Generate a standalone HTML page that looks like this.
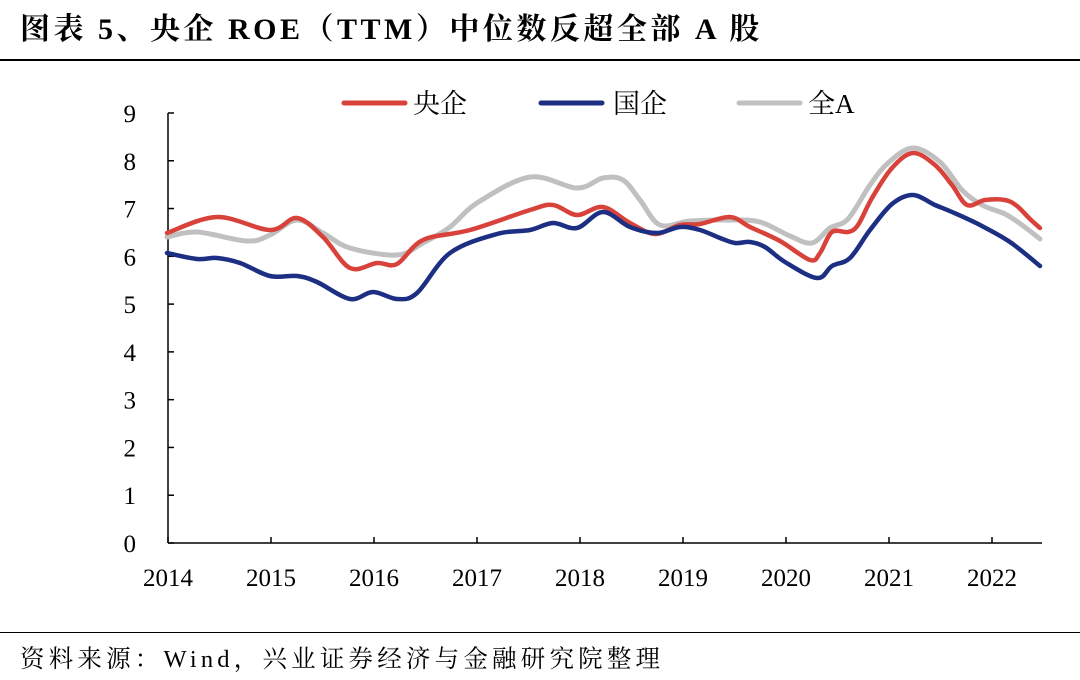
<!DOCTYPE html>
<html><head><meta charset="utf-8"><style>
body{margin:0;background:#fff;width:1080px;height:680px;overflow:hidden;font-family:"Liberation Serif","Noto Serif CJK SC",serif}
.t{position:absolute;left:20px;top:4px;font-size:30px;font-weight:bold;color:#000;letter-spacing:3.5px;white-space:nowrap;font-family:"Liberation Serif","Noto Serif CJK SC",serif}
.s{position:absolute;left:20px;top:640px;font-size:24.5px;color:#000;letter-spacing:4.2px;white-space:nowrap}
</style></head><body>
<div class="t">图表 5、央企 ROE（TTM）中位数反超全部 A 股</div>
<div style="position:absolute;left:0;top:59px;width:1080px;height:1.5px;background:#000"></div>
<div style="position:absolute;left:0;top:632px;width:1080px;height:1px;background:#000"></div>
<div class="s">资料来源：Wind，兴业证券经济与金融研究院整理</div>
<svg id="c" width="1080" height="680" style="position:absolute;left:0;top:0" font-family="Liberation Serif, Noto Serif CJK SC, serif" font-size="25">
</svg>
<script>
const svg=document.getElementById('c');let h='';
const y0=543,u=47.78;
h+='<line x1="168" y1="113" x2="168" y2="543" stroke="#000" stroke-width="1.5"/>';
h+='<line x1="168" y1="543" x2="1042" y2="543" stroke="#000" stroke-width="1.5"/>';
for(let i=0;i<=9;i++){const y=y0-i*u;h+=`<line x1="168" y1="${y}" x2="174" y2="${y}" stroke="#000" stroke-width="1.5"/><text x="136" y="${y+9}" text-anchor="end">${i}</text>`;}
for(let i=0;i<=8;i++){const x=168+i*103;h+=`<line x1="${x}" y1="537" x2="${x}" y2="543" stroke="#000" stroke-width="1.5"/><text x="${x}" y="586" text-anchor="middle">${2014+i}</text>`;}
function path(p){let d=`M${p[0][0]},${p[0][1]}`;for(let i=0;i<p.length-1;i++){const a=p[i-1]||p[i],b=p[i],c=p[i+1],e=p[i+2]||c;d+=` C${b[0]+(c[0]-a[0])/6},${b[1]+(c[1]-a[1])/6} ${c[0]-(e[0]-b[0])/6},${c[1]-(e[1]-b[1])/6} ${c[0]},${c[1]}`;}return d;}
const gray=[[167,237],[197,232],[247,241],[270,235],[297,220],[323,233],[350,248],[397,255],[423,243],[450,227],[477,203],[530,177],[577,188],[603,178],[623,180],[640,200],[660,225],[690,221],[730,220],[760,222],[790,236],[812,243],[830,228],[848,219],[870,185],[888,163],[913,148],[940,162],[962,190],[982,205],[1005,214],[1022,225],[1040,239]];
const red=[[167,233],[217,217],[270,230],[297,218],[323,237],[350,268],[377,263],[397,264],[423,240],[470,230],[530,210],[553,205],[577,215],[603,207],[630,223],[655,234],[680,225],[700,224],[730,217],[750,227],[780,241],[810,260],[820,253],[832,232],[848,232],[858,225],[872,198],[892,168],[913,153],[935,165],[952,185],[967,205],[985,200],[1005,200],[1017,206],[1030,219],[1040,228]];
const blue=[[167,253],[197,259],[217,258],[240,263],[270,276],[297,276],[317,282],[350,299],[373,292],[397,299],[417,293],[450,253],[497,234],[530,230],[553,223],[577,228],[603,212],[630,227],[657,233],[680,227],[700,230],[720,238],[735,243],[750,242],[765,247],[785,262],[817,278],[832,266],[850,258],[870,230],[892,204],[913,195],[935,205],[952,212],[980,225],[1010,242],[1040,266]];
h+=`<path d="${path(gray)}" fill="none" stroke="#c0c0c0" stroke-width="5" stroke-linecap="round" stroke-linejoin="round"/>`;
h+=`<path d="${path(red)}" fill="none" stroke="#d8423a" stroke-width="4.5" stroke-linecap="round" stroke-linejoin="round"/>`;
h+=`<path d="${path(blue)}" fill="none" stroke="#1c2f83" stroke-width="4.5" stroke-linecap="round" stroke-linejoin="round"/>`;
h+='<g font-size="27"><line x1="344" y1="103" x2="405" y2="103" stroke="#d8423a" stroke-width="5" stroke-linecap="round"/><text x="413" y="113">央企</text>';
h+='<line x1="541" y1="103" x2="602" y2="103" stroke="#1c2f83" stroke-width="5" stroke-linecap="round"/><text x="613" y="113">国企</text>';
h+='<line x1="739" y1="103" x2="800" y2="103" stroke="#c0c0c0" stroke-width="5" stroke-linecap="round"/><text x="808" y="113">全A</text></g>';
svg.innerHTML=h;
</script>
</body></html>
